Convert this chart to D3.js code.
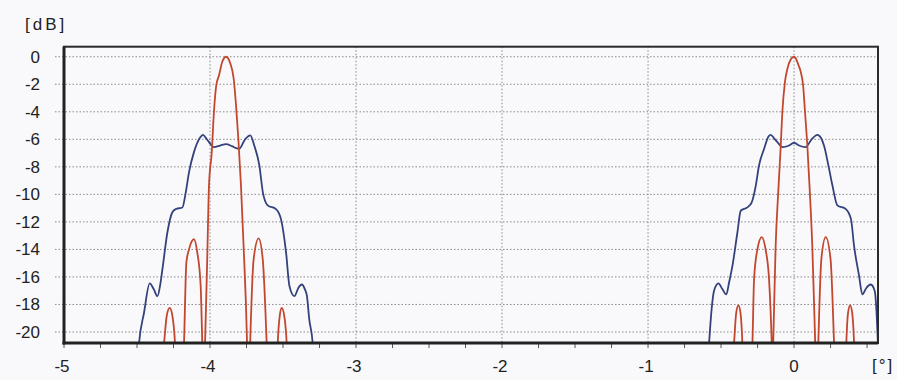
<!DOCTYPE html>
<html>
<head>
<meta charset="utf-8">
<script src="https://cdn.jsdelivr.net/npm/d3@7"></script>
<style>
  body { margin: 0; background: #f9f9fb; }
  text { font-family: "Liberation Sans", Arial, sans-serif; fill: #222; }
</style>
</head>
<body>
<svg class="pattern-chart"></svg>
<script>
// angle [deg], level [dB]
var redLobeLeft = [
  [-4.33, -22], [-4.315, -20.8], [-4.296, -18.8], [-4.276, -18.25], [-4.258, -18.8], [-4.24, -20.8], [-4.235, -22],
  [-4.182, -22], [-4.178, -20.8], [-4.162, -14.96], [-4.144, -14.0], [-4.11, -13.26], [-4.087, -14.23], [-4.064, -16.66], [-4.053, -20.8], [-4.05, -22],
  [-4.038, -22], [-4.034, -20.8], [-4.018, -14.2], [-4.007, -9.36], [-3.988, -6.93], [-3.973, -4.0], [-3.957, -2.07], [-3.938, -1.34], [-3.916, -0.36],
  [-3.89, 0], [-3.861, -0.49], [-3.838, -1.58], [-3.822, -3.5], [-3.806, -5.96], [-3.788, -9.36], [-3.77, -13.75], [-3.747, -20.55], [-3.744, -22],
  [-3.728, -22], [-3.724, -20.5], [-3.701, -14.7], [-3.667, -13.2], [-3.639, -14.7], [-3.612, -20.8], [-3.608, -22],
  [-3.54, -22], [-3.536, -20.8], [-3.522, -18.8], [-3.509, -18.25], [-3.492, -18.8], [-3.475, -20.8], [-3.47, -22]
];
var redLobeRight = [
  [-0.42, -22], [-0.411, -20.8], [-0.396, -18.6], [-0.381, -18.07], [-0.367, -18.6], [-0.354, -20.8], [-0.35, -22],
  [-0.29, -22], [-0.285, -20.8], [-0.274, -16.2], [-0.251, -14.0], [-0.221, -13.1], [-0.195, -14.0], [-0.171, -16.2], [-0.153, -20.8], [-0.15, -22],
  [-0.146, -22], [-0.142, -20.5], [-0.126, -13.75], [-0.107, -9.6], [-0.091, -6.45], [-0.08, -4.0], [-0.062, -1.8], [-0.045, -0.85], [-0.023, -0.2],
  [0.0, 0], [0.011, -0.1], [0.03, -0.6], [0.046, -1.1], [0.062, -2.07], [0.075, -4.0], [0.091, -6.45], [0.107, -9.6], [0.125, -13.75], [0.144, -20.5], [0.148, -22],
  [0.163, -22], [0.167, -20.5], [0.187, -14.7], [0.217, -13.1], [0.25, -14.7], [0.274, -20.8], [0.278, -22],
  [0.354, -22], [0.358, -20.8], [0.37, -18.6], [0.384, -18.07], [0.398, -18.6], [0.411, -20.8], [0.415, -22]
];
var blueLobeLeft = [
  [-4.495, -22], [-4.486, -20.8], [-4.452, -18.6], [-4.413, -16.47], [-4.385, -16.9], [-4.36, -17.4], [-4.34, -16.5], [-4.326, -15.45],
  [-4.292, -12.77], [-4.258, -11.3], [-4.235, -11.07], [-4.189, -10.95], [-4.166, -9.85], [-4.144, -8.4], [-4.11, -6.93], [-4.07, -5.9],
  [-4.048, -5.67], [-4.025, -5.95], [-4.007, -6.2], [-3.973, -6.57], [-3.93, -6.45], [-3.89, -6.35], [-3.85, -6.5], [-3.822, -6.64],
  [-3.8, -6.69], [-3.76, -6.0], [-3.724, -5.71], [-3.697, -6.45], [-3.662, -7.9], [-3.638, -9.85], [-3.605, -10.8], [-3.548, -11.07],
  [-3.514, -11.8], [-3.479, -14.23], [-3.456, -16.66], [-3.422, -17.4], [-3.395, -16.8], [-3.372, -16.55], [-3.35, -16.9], [-3.336, -17.4],
  [-3.32, -19.1], [-3.297, -20.8], [-3.29, -22]
];
var blueLobeRight = [
  [-0.59, -22], [-0.582, -20.8], [-0.565, -18.4], [-0.548, -17.0], [-0.518, -16.47], [-0.49, -16.9], [-0.464, -17.27], [-0.445, -16.4],
  [-0.422, -15.2], [-0.388, -12.77], [-0.365, -11.19], [-0.32, -10.95], [-0.29, -10.58], [-0.262, -9.36], [-0.24, -7.9], [-0.205, -6.69],
  [-0.175, -5.8], [-0.16, -5.67], [-0.135, -5.95], [-0.114, -6.2], [-0.08, -6.57], [-0.034, -6.45], [0.0, -6.25], [0.034, -6.45],
  [0.079, -6.57], [0.12, -6.0], [0.16, -5.67], [0.185, -5.9], [0.205, -6.45], [0.24, -8.15], [0.263, -9.36], [0.297, -10.8],
  [0.355, -11.07], [0.39, -11.8], [0.411, -13.75], [0.445, -15.9], [0.468, -17.27], [0.495, -16.8], [0.525, -16.55], [0.545, -16.8],
  [0.555, -17.15], [0.564, -18.4], [0.575, -21]
];
var xTicks = [-5, -4, -3, -2, -1, 0];
var yTicks = [0, -2, -4, -6, -8, -10, -12, -14, -16, -18, -20];

var svgWidth = 897,
    svgHeight = 380;
var plotLeft = 64, plotRight = 878, plotTop = 46.7, plotBottom = 343;

var svg = d3.select(".pattern-chart")
      .attr("width", svgWidth)
      .attr("height", svgHeight)
      .style("background", "#f9f9fb");

var x = d3.scaleLinear().domain([-5, 0.575]).range([plotLeft, plotRight]);
var y = d3.scaleLinear().domain([-20.8, 0.73]).range([plotBottom, plotTop]);

svg.append("clipPath").attr("id", "plot-clip")
  .append("rect")
  .attr("x", plotLeft).attr("y", plotTop)
  .attr("width", plotRight - plotLeft).attr("height", plotBottom - plotTop);

// grid
svg.append("g")
  .selectAll("line")
  .data(yTicks)
  .enter()
  .append("line")
  .attr("x1", plotLeft - 9).attr("x2", plotRight)
  .attr("y1", function(d) { return y(d); })
  .attr("y2", function(d) { return y(d); })
  .attr("stroke", "#8a8a8a")
  .attr("stroke-width", 1)
  .attr("stroke-dasharray", "1.5,2");

svg.append("g")
  .selectAll("line")
  .data(xTicks.slice(1))
  .enter()
  .append("line")
  .attr("x1", function(d) { return x(d); })
  .attr("x2", function(d) { return x(d); })
  .attr("y1", plotTop).attr("y2", plotBottom)
  .attr("stroke", "#8a8a8a")
  .attr("stroke-width", 1)
  .attr("stroke-dasharray", "1.5,2");

// minor x ticks every 0.25
var minorTicks = d3.range(-5, 0.5001, 0.25);
svg.append("g")
  .selectAll("line")
  .data(minorTicks)
  .enter()
  .append("line")
  .attr("x1", function(d) { return x(d); })
  .attr("x2", function(d) { return x(d); })
  .attr("y1", plotBottom).attr("y2", plotBottom + 5)
  .attr("stroke", "#555")
  .attr("stroke-width", 1);

// curves
var line = d3.line()
  .x(function(d) { return x(d[0]); })
  .y(function(d) { return y(d[1]); })
  .curve(d3.curveMonotoneX);

var curves = svg.append("g").attr("clip-path", "url(#plot-clip)");

[blueLobeLeft, blueLobeRight].forEach(function(lobe) {
  curves.append("path")
    .attr("d", line(lobe))
    .attr("fill", "none")
    .attr("stroke", "#33427c")
    .attr("stroke-width", 1.8);
});
[redLobeLeft, redLobeRight].forEach(function(lobe) {
  curves.append("path")
    .attr("d", line(lobe))
    .attr("fill", "none")
    .attr("stroke", "#c2472f")
    .attr("stroke-width", 1.8);
});

// frame
svg.append("rect")
  .attr("x", plotLeft).attr("y", plotTop)
  .attr("width", plotRight - plotLeft).attr("height", plotBottom - plotTop)
  .attr("fill", "none")
  .attr("stroke", "#2a2a2a")
  .attr("stroke-width", 2);
svg.append("line")
  .attr("x1", plotLeft).attr("x2", plotLeft)
  .attr("y1", plotTop).attr("y2", plotBottom + 1.5)
  .attr("stroke", "#222").attr("stroke-width", 3);
svg.append("line")
  .attr("x1", plotLeft - 1.5).attr("x2", plotRight)
  .attr("y1", plotBottom).attr("y2", plotBottom)
  .attr("stroke", "#222").attr("stroke-width", 3);

// labels
svg.append("g")
  .selectAll("text")
  .data(yTicks)
  .enter()
  .append("text")
  .text(function(d) { return d; })
  .attr("x", 40)
  .attr("y", function(d) { return y(d) + 6; })
  .attr("text-anchor", "end")
  .attr("font-size", "17px");

svg.append("g")
  .selectAll("text")
  .data(xTicks)
  .enter()
  .append("text")
  .text(function(d) { return d; })
  .attr("x", function(d) { return x(d) - (d < 0 ? 2 : 0); })
  .attr("y", 372)
  .attr("text-anchor", "middle")
  .attr("font-size", "17px");

svg.append("text")
  .text("[dB]")
  .attr("x", 25).attr("y", 30)
  .attr("font-size", "17px")
  .attr("letter-spacing", "3px");

svg.append("text")
  .text("[°]")
  .attr("x", 872).attr("y", 371)
  .attr("font-size", "17px")
  .attr("letter-spacing", "2px");
</script>
</body>
</html>
